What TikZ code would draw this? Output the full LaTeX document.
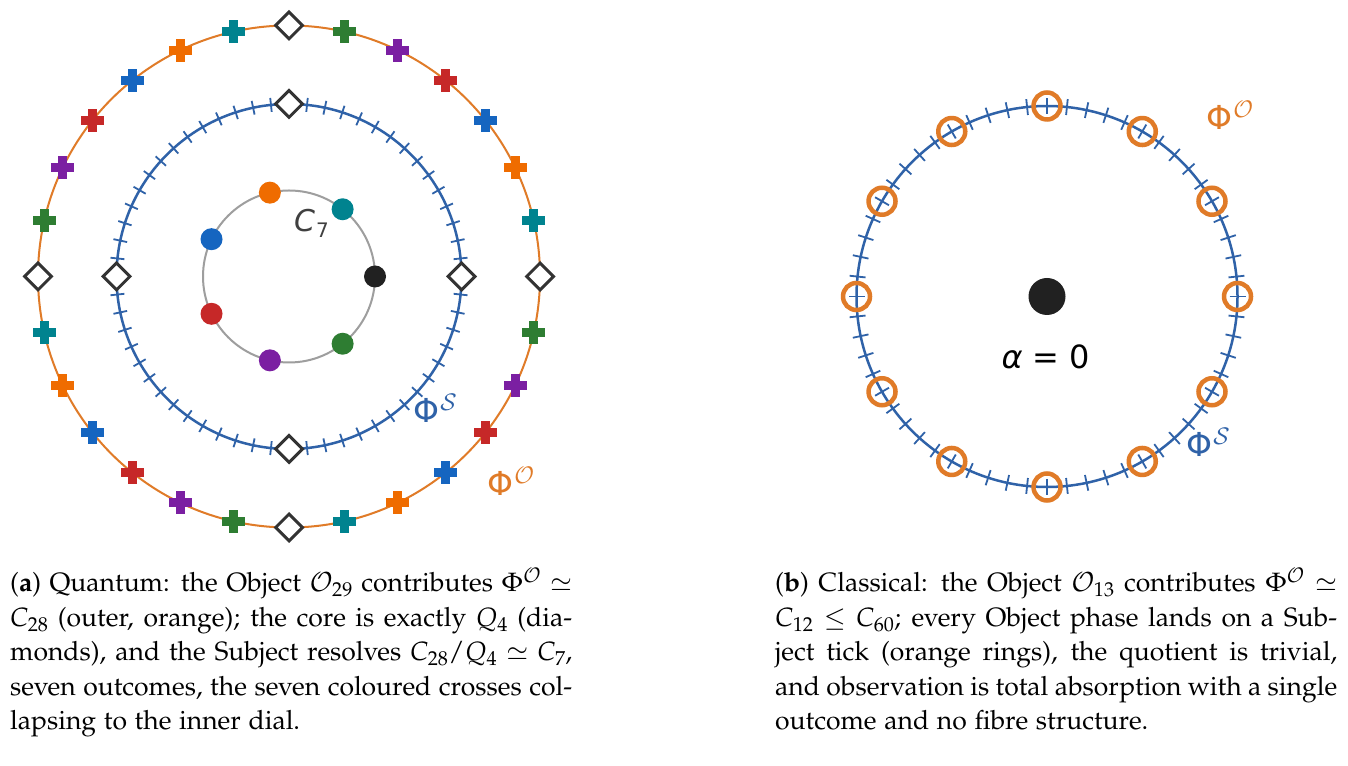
\documentclass[tikz,border=0pt]{standalone}
\usepackage[T1]{fontenc}
\usepackage{mathpazo}
\usepackage[no-math]{fontspec}
\newfontfamily\djv{DejaVu Sans}
\usetikzlibrary{calc,shapes.geometric}
\definecolor{c0}{HTML}{212121}
\definecolor{c1}{HTML}{00838F}
\definecolor{c2}{HTML}{EF6C00}
\definecolor{c3}{HTML}{1565C0}
\definecolor{c4}{HTML}{C62828}
\definecolor{c5}{HTML}{7B1FA2}
\definecolor{c6}{HTML}{2E7D32}
\definecolor{orline}{HTML}{E07B28}
\definecolor{blline}{HTML}{2F62A8}
\definecolor{grline}{HTML}{9E9E9E}
\definecolor{dmd}{HTML}{333333}
\definecolor{lblgray}{HTML}{404040}
\newcommand\capfont{\fontencoding{T1}\fontfamily{pplx}\fontsize{26.5}{34.5}\selectfont}
\newcommand\capline[1]{\hbox to \hsize{#1}}
\newcommand\lastline[1]{\hbox to \hsize{#1\hfil}}
\tikzset{
  ringline/.style={line width=2pt},
  tickline/.style={blline, line width=1.8pt},
  diamondmark/.style={diamond, draw=dmd, fill=white, line width=3pt, minimum size=28pt, inner sep=0pt, line join=miter},
  dotmark/.style={circle, inner sep=0pt, minimum size=22pt},
  ringmark/.style={circle, draw=orline, line width=4.5pt, inner sep=0pt, minimum size=27pt},
  bigdot/.style={circle, fill=c0, inner sep=0pt, minimum size=37pt},
  phil/.style={font=\djv\fontsize{33}{33}\selectfont, inner sep=0pt, anchor=base west},
  caption/.style={inner sep=0pt, anchor=base west}
}
\begin{document}
\begin{tikzpicture}[x=1pt,y=1pt]
\useasboundingbox (0,0) rectangle (1348,765);
\fill[white] (0,0) rectangle (1348,765);
% ---------------- left panel ----------------
\coordinate (cL) at (289,488.5);
\draw[orline, ringline] (cL) circle[radius=251];
\foreach \k in {0,...,27}{
  \coordinate (o\k) at ($(cL)+({\k*360/28}:251)$);
}
\foreach \k in {0,...,27}{
  \pgfmathtruncatemacro\m{mod(\k,7)}
  \ifnum\m>0
    \fill[c\m] ($(o\k)+(-11.5,-4.5)$) rectangle ($(o\k)+(11.5,4.5)$);
    \fill[c\m] ($(o\k)+(-4.5,-11.5)$) rectangle ($(o\k)+(4.5,11.5)$);
  \fi
}
\foreach \k in {0,7,14,21}{
  \node[diamondmark] (od\k) at (o\k) {};
}
% inner subject dial
\draw[blline, line width=2.5pt] (cL) circle[radius=172.5];
\foreach \k in {0,...,59}{
  \draw[tickline] ($(cL)+({\k*6}:165.5)$) -- ($(cL)+({\k*6}:179.5)$);
}
\foreach \k in {0,1,2,3}{
  \node[diamondmark] (id\k) at ($(cL)+({\k*90}:172.5)$) {};
}
% C7 dial
\draw[grline, line width=2pt] (cL) circle[radius=86];
\foreach \j in {0,...,6}{
  \node[dotmark, fill=c\j] (d\j) at ($(cL)+({\j*360/7}:86)$) {};
}
\node[inner sep=0pt, anchor=base west, text=lblgray] (c7lbl) at (294,533)
  {\djv\fontsize{30}{30}\selectfont\itshape C\upshape\kern1pt\raisebox{-6pt}{\fontsize{20}{20}\selectfont 7}};
\node[phil, text=blline] (phiSL) at (413,342)
  {Φ\kern1pt\raisebox{12pt}{\fontsize{23}{23}\selectfont$\mathcal{S}$}};
\node[phil, text=orline] (phiOL) at (487,269)
  {Φ\kern1pt\raisebox{12pt}{\fontsize{23}{23}\selectfont$\mathcal{O}$}};
% ---------------- right panel ----------------
\coordinate (cR) at (1047,468.5);
\draw[blline, line width=2.5pt] (cR) circle[radius=190.5];
\foreach \k in {0,...,59}{
  \draw[tickline] ($(cR)+({\k*6}:182.5)$) -- ($(cR)+({\k*6}:198.5)$);
}
\foreach \k in {0,...,11}{
  \node[ringmark] (r\k) at ($(cR)+({\k*30}:190.5)$) {};
}
\node[bigdot] (alpha0) at (cR) {};
\node[inner sep=0pt, anchor=base] (alphalbl) at (1046,396)
  {\djv\fontsize{32}{32}\selectfont{\itshape α} = 0};
\node[phil, text=orline] (phiOR) at (1206,635)
  {Φ\kern1pt\raisebox{12pt}{\fontsize{23}{23}\selectfont$\mathcal{O}$}};
\node[phil, text=blline] (phiSR) at (1186,308)
  {Φ\kern1pt\raisebox{12pt}{\fontsize{23}{23}\selectfont$\mathcal{S}$}};
% ---------------- captions ----------------
\node[caption] (capA) at (10,173) {\parbox[t]{562pt}{\capfont
  \capline{(\textbf{a}) Quantum: the Object $\mathcal{O}_{29}$ contributes $\Phi^{\mathcal{O}}\simeq$}
  \capline{$C_{28}$ (outer, orange); the core is exactly $Q_4$ (dia-}
  \capline{monds), and the Subject resolves $C_{28}/Q_4\simeq C_7$,}
  \capline{seven outcomes, the seven coloured crosses col-}
  \lastline{lapsing to the inner dial.}}};
\node[caption] (capB) at (775,173) {\parbox[t]{562pt}{\capfont
  \capline{(\textbf{b}) Classical: the Object $\mathcal{O}_{13}$ contributes $\Phi^{\mathcal{O}}\simeq$}
  \capline{$C_{12}\leq C_{60}$; every Object phase lands on a Sub-}
  \capline{ject tick (orange rings), the quotient is trivial,}
  \capline{and observation is total absorption with a single}
  \lastline{outcome and no fibre structure.}}};
\end{tikzpicture}
\end{document}
